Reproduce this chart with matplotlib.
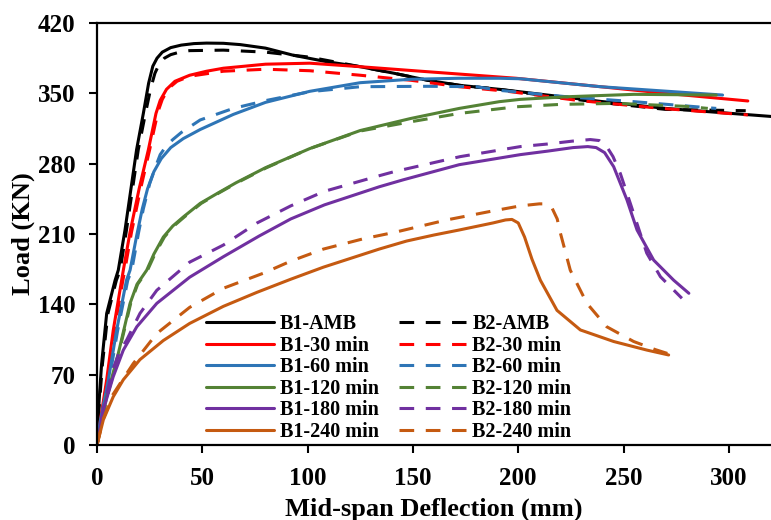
import matplotlib
matplotlib.use("Agg")
import matplotlib.pyplot as plt

plt.rcParams['font.family'] = ['Liberation Serif', 'DejaVu Serif']
plt.rcParams['font.weight'] = 'bold'

# ---------------- data ----------------
b1_amb_x = [0, 0.6, 2.2, 4.6, 8.6, 10.1, 13.3, 18.8, 22, 24.5, 26.5, 28.5, 31, 35, 40, 46, 52, 60, 68, 80, 93, 109, 125, 141, 157, 172, 191, 215, 239, 270, 320]
b1_amb_y = [0, 32, 81, 131, 164, 174, 214, 294, 330, 360, 377, 385, 391, 395.5, 398, 399.5, 400, 399.8, 398.5, 395, 388, 381.5, 376.5, 370, 363, 358, 354, 348, 342, 335, 327]

b2_amb_x = [0, 0.8, 2.6, 5.2, 9.2, 11, 14, 19.6, 23, 25.5, 27.5, 29.5, 32, 35, 40, 44, 60, 80, 101, 125, 141, 157, 172, 191, 215, 239, 270, 308]
b2_amb_y = [0, 32, 81, 131, 164, 174, 214, 294, 330, 355, 370, 379, 385, 388.5, 391.5, 392.5, 393, 391, 386, 376.5, 370, 363, 358, 354, 347, 341, 334, 332.7]

b1_30_x = [0, 1.4, 4.6, 7.7, 11.7, 12.5, 15.7, 20, 24.4, 26.5, 28, 30, 33, 37, 44, 52, 60, 80, 101, 125, 157, 199, 239, 270, 309]
b1_30_y = [0, 22, 65, 114, 164, 174, 212, 255, 294, 315, 330, 343, 354, 362, 368, 372, 375, 379, 380, 376.5, 371.5, 365, 356.6, 350, 342.4]

b2_30_x = [0, 1.6, 5, 8.2, 12.3, 13.2, 16.4, 20.7, 25, 27.2, 29, 31, 34, 38, 44, 60, 80, 101, 125, 149, 172, 195, 228, 268, 309]
b2_30_y = [0, 22, 65, 114, 164, 174, 212, 255, 294, 315, 332, 344, 355, 362, 367, 372, 374, 372.5, 368, 363, 356.6, 352, 343, 335, 328.5]

b1_60_x = [0, 1.4, 5.4, 9.3, 14, 15.7, 18.8, 21.5, 24, 27, 30.5, 35, 41, 49, 64.7, 80, 101, 125, 149, 172, 191, 201, 239, 297]
b1_60_y = [0, 22, 65, 114, 164, 174, 208, 235, 255, 272, 285, 296, 305, 314, 329, 341, 352, 360.6, 364, 365, 365, 364.5, 356.6, 348.3]

b2_60_x = [0, 1.6, 5.8, 9.8, 14.6, 16.5, 19.7, 22, 25, 28, 30, 33, 36, 40, 49, 64.7, 80.6, 101, 125, 157, 180, 191, 223, 255, 294]
b2_60_y = [0, 22, 65, 114, 164, 174, 211, 235, 260, 278, 289, 298, 304, 311, 323.5, 335, 343, 351.6, 356.6, 357, 356.6, 353, 346.6, 341.7, 335]

b1_120_x = [0, 4.6, 10.1, 15.7, 19, 23.6, 27, 31.5, 36, 41, 49, 57.6, 66, 80, 101, 125, 149, 172, 191, 201, 223, 255, 294]
b1_120_y = [0, 48, 91, 141, 160, 174, 190, 207, 218, 227, 240.5, 251, 261, 276, 295, 313, 325, 335, 341.7, 344, 346.6, 349, 348.3]

b2_120_x = [0, 4.8, 10.3, 16, 19.3, 24, 27.5, 32, 36.5, 41.5, 49.5, 58, 66.5, 80.5, 101, 125, 149, 172, 199, 220, 247, 280, 290]
b2_120_y = [0, 48, 91, 141, 160, 174, 190, 207, 218, 227, 240.5, 251, 261, 276, 295, 312.5, 321.7, 330, 336.6, 339, 340, 337, 335]

b1_180_x = [0, 3, 7.7, 12.5, 18.9, 28.4, 44, 60, 77, 92, 108, 134, 145.5, 172, 201, 214, 226, 233, 237, 241, 245.3, 251.6, 256.4, 264.3, 273.8, 281]
b1_180_y = [0, 35, 68, 94.5, 117.7, 141, 167, 187.4, 208, 225, 239, 257, 264, 279, 289, 292.5, 296, 297, 296, 291, 277, 244, 214, 184, 164, 151]

b2_180_x = [0, 3, 7, 10.5, 14.1, 20.4, 28.4, 44, 60, 76, 92, 108, 134, 141, 172.4, 201, 213.6, 226, 234.2, 238.5, 242, 245, 248.5, 253.2, 261, 267.5, 277.7]
b2_180_y = [0, 36, 72, 92, 104.5, 131, 154, 182, 199, 221, 238, 252.5, 268, 272, 287, 297, 299.5, 302.5, 304, 303, 297, 287, 270, 240.5, 191, 167.5, 146]

b1_240_x = [0, 3, 7.7, 12.5, 20.4, 31.5, 44, 60, 76, 92, 107.5, 134, 147, 160, 172, 188, 194, 197, 200, 203, 206.5, 210.5, 218.4, 229.5, 245.3, 261, 271.4]
b1_240_y = [0, 25, 48, 65, 85, 104, 121, 138, 152, 165, 177, 195, 203, 209, 214, 221, 224, 224.5, 221, 207, 185, 164, 134, 114.5, 103, 94.5, 89.6]

b2_240_x = [0, 3, 7.5, 10.9, 17.2, 28.4, 44, 60, 79, 92, 107.5, 126, 142, 150, 166, 188, 201, 210, 213, 216, 218.5, 220, 224.7, 232.6, 242, 254.8, 265, 271]
b2_240_y = [0, 26, 50, 61, 81, 111, 137, 156, 171, 183, 195, 205, 212, 216, 224, 233, 238, 240, 240, 236, 225, 211, 174, 141, 117.7, 103, 95, 91]

labels_b1 = ['B1-AMB', 'B1-30 min', 'B1-60 min', 'B1-120 min', 'B1-180 min', 'B1-240 min']
labels_b2 = ['B2-AMB', 'B2-30 min', 'B2-60 min', 'B2-120 min', 'B2-180 min', 'B2-240 min']
colors = ['#000000', '#FF0000', '#2E75B6', '#548235', '#7030A0', '#C55A11']

x_ticks = [0, 50, 100, 150, 200, 250, 300]
y_ticks = [0, 70, 140, 210, 280, 350, 420]

b1_series = [(b1_amb_x, b1_amb_y), (b1_30_x, b1_30_y), (b1_60_x, b1_60_y),
             (b1_120_x, b1_120_y), (b1_180_x, b1_180_y), (b1_240_x, b1_240_y)]
b2_series = [(b2_amb_x, b2_amb_y), (b2_30_x, b2_30_y), (b2_60_x, b2_60_y),
             (b2_120_x, b2_120_y), (b2_180_x, b2_180_y), (b2_240_x, b2_240_y)]

# ---------------- figure ----------------
fig = plt.figure(figsize=(7.71, 5.2), dpi=100)
ax = fig.add_axes([97/771, 75/520, 674/771, 422/520])

lw = 2.2
h1, h2 = [], []
for i in range(6):
    (x1, y1), (x2, y2) = b1_series[i], b2_series[i]
    l1, = ax.plot(x1, y1, color=colors[i], lw=lw, solid_joinstyle='round',
                  solid_capstyle='round', label=labels_b1[i])
    l2, = ax.plot(x2, y2, color=colors[i], lw=lw, dashes=(4.8, 3.8),
                  dash_capstyle='butt', dash_joinstyle='round', label=labels_b2[i])
    h1.append(l1)
    h2.append(l2)

ax.set_xlim(0, 320)
ax.set_ylim(0, 420)
ax.set_xticks(x_ticks)
ax.set_yticks(y_ticks)

for s in ['left', 'bottom', 'top']:
    ax.spines[s].set_linewidth(1.6)
ax.spines['right'].set_visible(False)

ax.tick_params(axis='both', direction='out', length=5.5, width=1.5,
               labelsize=18, pad=10)

ax.set_xlabel('Mid-span Deflection (mm)', fontsize=19, fontweight='bold', labelpad=6)
ax.set_ylabel('Load (KN)', fontsize=19, fontweight='bold', labelpad=2)

leg = ax.legend(handles=h1 + h2, ncol=2, frameon=False, fontsize=14.5,
                loc='lower left', bbox_to_anchor=(0.15, -0.012),
                handlelength=3.35, handletextpad=0.3, columnspacing=1.0,
                labelspacing=0.08, borderaxespad=0.0)
for t in leg.get_texts():
    t.set_fontweight('bold')

fig.savefig('out.png', dpi=100)
